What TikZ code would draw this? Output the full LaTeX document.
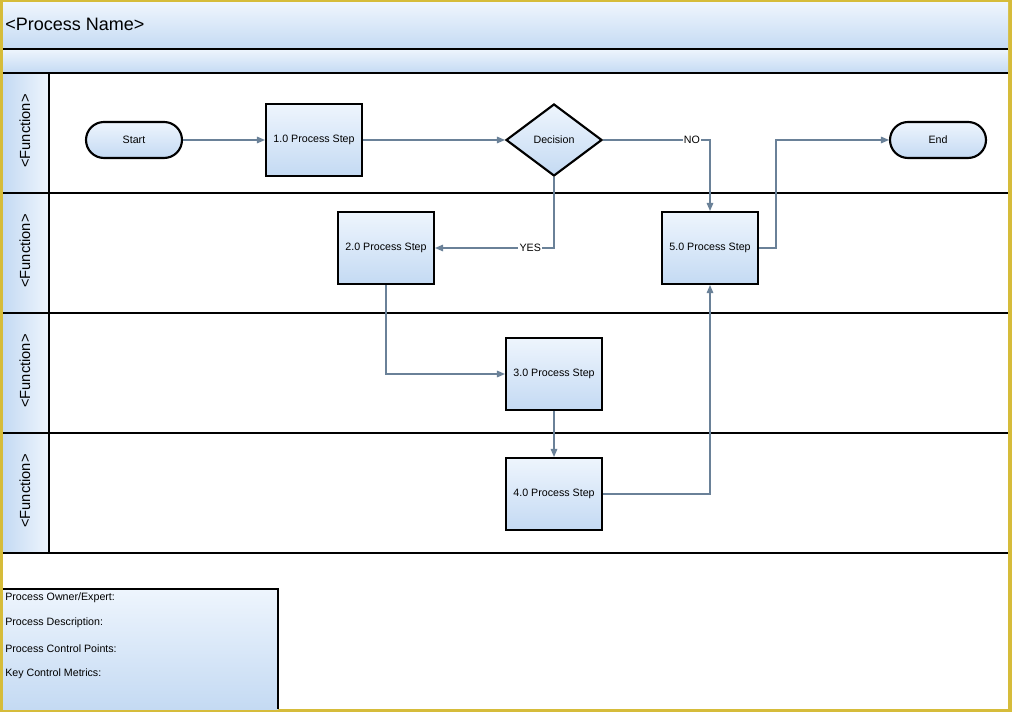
\documentclass[tikz,border=0pt]{standalone}
\usepackage{fontspec}
\setmainfont{Liberation Sans}
\usetikzlibrary{shapes.geometric,arrows.meta}
\definecolor{gold}{HTML}{D6BC3A}
\definecolor{lblue}{HTML}{C4DAF3}
\definecolor{vlblue}{HTML}{EEF5FD}
\definecolor{conn}{HTML}{6A8198}
\tikzset{
  procbox/.style={draw=black,line width=1.6pt,minimum width=72pt,minimum height=54pt,top color=vlblue,bottom color=lblue,font=\fontsize{8}{9}\selectfont,inner sep=0pt},
  pill/.style={draw=black,line width=1.6pt,rounded corners=13.5pt,minimum width=72pt,minimum height=27pt,top color=vlblue,bottom color=lblue,font=\fontsize{8}{9}\selectfont,inner sep=0pt},
  decis/.style={diamond,draw=black,line width=1.6pt,minimum width=72pt,minimum height=54pt,aspect=1.333,top color=vlblue,bottom color=lblue,font=\fontsize{8}{9}\selectfont,inner sep=0pt},
  conn/.style={draw=conn,line width=0.8pt,-{Triangle[length=6pt,width=5pt]}},
  lane/.style={draw=black,line width=2.2pt},
  lbl/.style={fill=white,inner sep=1pt,font=\fontsize{8}{9}\selectfont},
  funclbl/.style={rotate=90,font=\fontsize{11}{12}\selectfont},
  infotxt/.style={anchor=west,font=\fontsize{8}{9}\selectfont,inner sep=0pt}
}
\begin{document}
\begin{tikzpicture}[x=0.75pt,y=-0.75pt]
\useasboundingbox (0,0) rectangle (1012,712);
% gold frame
\fill[gold] (0,0) rectangle (1012,712);
\fill[white] (3,3) rectangle (1008,709);
% header bands
\shade[top color=vlblue,bottom color=lblue] (3,3) rectangle (1008,49);
\shade[top color=vlblue,bottom color=lblue] (3,49) rectangle (1008,73);
\node[anchor=west,font=\fontsize{13.5}{15}\selectfont,inner sep=0pt] (title) at (5,24) {<Process Name>};
% label column
\shade[left color=lblue,right color=vlblue] (3,73) rectangle (49,553);
% lane lines
\draw[lane] (3,49) -- (1008,49);
\draw[lane] (3,73) -- (1008,73);
\draw[lane] (3,193) -- (1008,193);
\draw[lane] (3,313) -- (1008,313);
\draw[lane] (3,433) -- (1008,433);
\draw[lane] (3,553) -- (1008,553);
\draw[lane] (49,73) -- (49,553);
\node[funclbl] (f1) at (25,131) {<Function>};
\node[funclbl] (f2) at (25,251) {<Function>};
\node[funclbl] (f3) at (25,371) {<Function>};
\node[funclbl] (f4) at (25,491) {<Function>};
% nodes
\node[pill] (start) at (134,140) {Start};
\node[procbox] (p1) at (314,140) {1.0 Process Step};
\node[decis] (dec) at (554,140) {Decision};
\node[pill] (end) at (938,140) {End};
\node[procbox] (p2) at (386,248) {2.0 Process Step};
\node[procbox] (p5) at (710,248) {5.0 Process Step};
\node[procbox] (p3) at (554,374) {3.0 Process Step};
\node[procbox] (p4) at (554,494) {4.0 Process Step};
% connectors
\draw[conn] (start) -- (p1);
\draw[conn] (p1) -- (dec);
\draw[conn] (dec.east) -- node[lbl,pos=0.83] {NO} (p5.north |- dec.east) -- (p5.north);
\draw[conn] (dec.south) |- node[lbl,pos=0.6] {YES} (p2.east);
\draw[conn] (p2.south) |- (p3.west);
\draw[conn] (p3) -- (p4);
\draw[conn] (p4.east) -| (p5.south);
\coordinate (bend) at (776,248);
\draw[conn] (p5.east) -- (bend) |- (end.west);
% info box
\shade[top color=vlblue,bottom color=lblue] (3,589) rectangle (278,709);
\draw[black,line width=1.6pt] (3,589) -- (278,589) -- (278,709);
\node[infotxt] (t1) at (5,598) {Process Owner/Expert:};
\node[infotxt] (t2) at (5,623) {Process Description:};
\node[infotxt] (t3) at (5,649) {Process Control Points:};
\node[infotxt] (t4) at (5,674) {Key Control Metrics:};
\end{tikzpicture}
\end{document}
